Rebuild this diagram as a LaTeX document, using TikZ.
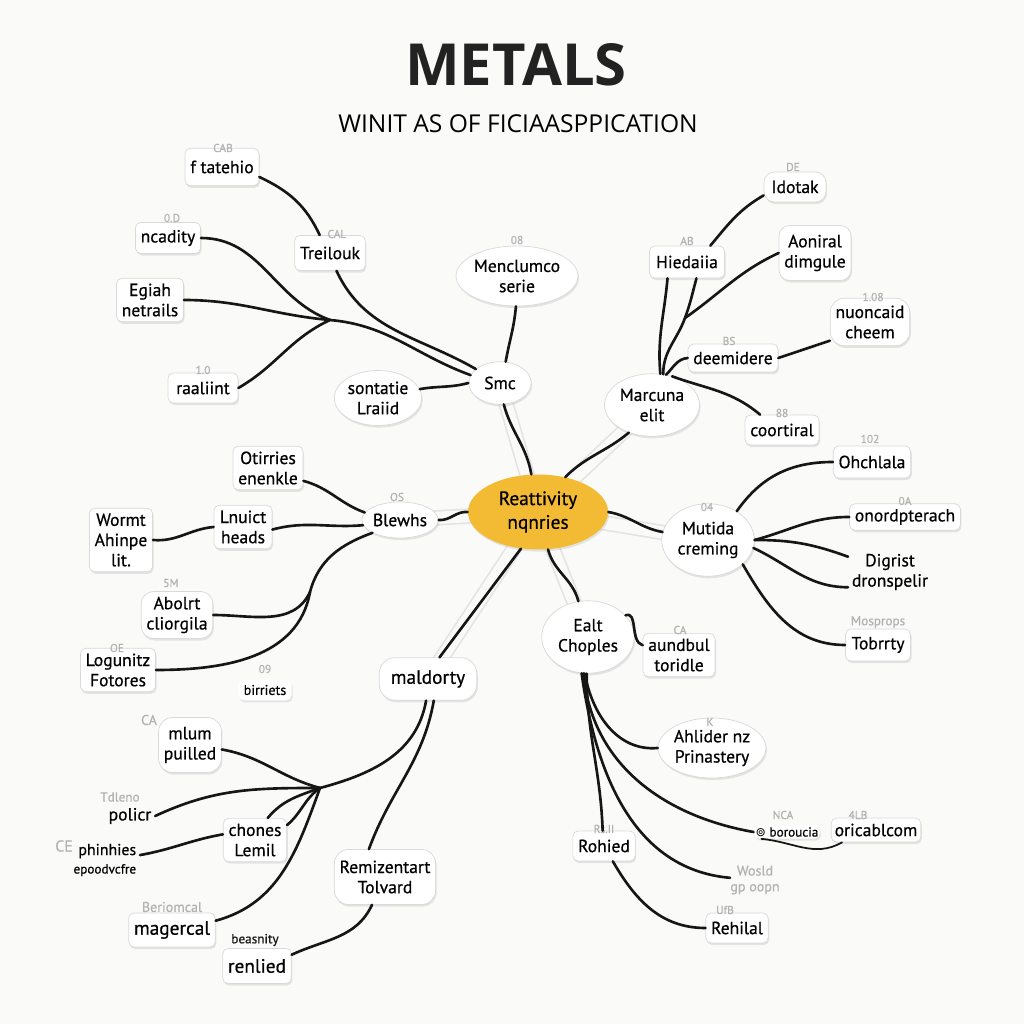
\documentclass[tikz,border=0pt]{standalone}
\usepackage{fontspec}
\setmainfont{PT Sans}[FakeBold=0.6]
\newfontfamily\headfont{Open Sans}
\newfontfamily\symfont{DejaVu Sans}
\usetikzlibrary{shapes.geometric, shadows, backgrounds}
\definecolor{paper}{RGB}{250, 250, 248}
\definecolor{hubgold}{RGB}{243, 186, 52}
\definecolor{inkblack}{RGB}{22, 22, 22}
\definecolor{taggray}{RGB}{178, 178, 178}
\newcommand{\mapfont}{\fontsize{10}{11.5}\selectfont}
\tikzset{
  link/.style={line width=1.5pt, line cap=round, inkblack},
  ghost/.style={draw=gray!22, line width=0.9pt, double=paper, double distance=7pt},
  softshadow/.style={drop shadow={opacity=0.18, shadow xshift=0.6pt, shadow yshift=-1.2pt}}
}

\begin{document}
\begin{tikzpicture}[
    hub/.style={ellipse, fill=hubgold, minimum width=2.8cm, minimum height=1.5cm, inner sep=0pt, font=\fontsize{11}{13.5}\selectfont, align=center, softshadow},
    topic/.style={ellipse, draw=gray!30, fill=white, inner sep=0pt, font=\mapfont, align=center, softshadow},
    leaf/.style={rectangle, draw=gray!30, fill=white, rounded corners=3pt, inner sep=3pt, font=\mapfont, align=center, softshadow},
    bare/.style={inner sep=2pt, font=\mapfont, align=center},
    tag/.style={inner sep=0pt, font=\fontsize{6.5}{7.5}\selectfont, text=taggray, align=center}
]
    \begin{scope}[on background layer]
        \fill[paper] (0, 0) rectangle (20.48, 20.48);
    \end{scope}
    \useasboundingbox (0, 0) rectangle (20.48, 20.48);

    % Header
    \node (title) at (10.32, 19.18) {\headfont\bfseries\color{inkblack!95}\fontsize{33}{36}\selectfont METALS};
    \node (subtitle) at (10.36, 18.00) {\headfont\fontsize{14}{16}\selectfont WINIT AS OF FICIAASPPICATION};

    % Centre and first ring
    \node[hub] (hub) at (10.76, 10.24) {Reattivity\\nqnries};
    \node[topic, minimum width=1.25cm, minimum height=0.85cm] (smc) at (10.00, 12.82) {Smc};
    \node[topic, minimum width=1.9cm, minimum height=1.25cm] (marcuna) at (13.04, 12.38) {Marcuna\\elit};
    \node[topic, minimum width=1.45cm, minimum height=0.72cm] (blewhs) at (8.00, 10.08) {Blewhs};
    \node[topic, minimum width=1.85cm, minimum height=1.45cm] (mutida) at (14.16, 9.68) {Mutida\\creming};
    \node[topic, minimum width=1.85cm, minimum height=1.45cm] (ealt) at (11.76, 7.74) {Ealt\\Choples};
    \node[leaf, rounded corners=9pt, minimum width=1.95cm, minimum height=0.85cm, font=\fontsize{11}{13}\selectfont] (maldorty) at (8.56, 6.90) {maldorty};

    % Smc branch
    \node[topic, minimum width=2.0cm, minimum height=1.2cm] (menclumco) at (10.34, 14.96) {Menclumco\\serie};
    \node[topic, minimum width=1.75cm, minimum height=1.1cm] (sontatie) at (7.56, 12.52) {sontatie\\Lraiid};
    \node[leaf, minimum width=1.4cm, minimum height=0.7cm] (treilouk) at (6.60, 15.42) {Treilouk};
    \node[leaf, minimum width=1.4cm, minimum height=0.75cm] (ftatehio) at (4.44, 17.14) {f tatehio};
    \node[leaf, minimum width=1.3cm, minimum height=0.62cm] (ncadity) at (3.36, 15.72) {ncadity};
    \node[leaf, minimum width=1.25cm] (egiah) at (3.00, 14.48) {Egiah\\netrails};
    \node[leaf, minimum width=1.4cm, minimum height=0.6cm] (raaliint) at (4.06, 12.72) {raaliint};
    \coordinate (jsw) at (6.60, 14.08);

    % Marcuna branch
    \node[leaf, minimum width=1.5cm, minimum height=0.64cm] (hiedaiia) at (13.74, 15.24) {Hiedaiia};
    \node[leaf, rounded corners=6pt, minimum width=1.24cm, minimum height=0.6cm] (idotak) at (15.90, 16.74) {Idotak};
    \node[leaf, rounded corners=6pt, minimum height=1.1cm] (aoniral) at (16.30, 15.42) {Aoniral\\dimgule};
    \node[leaf, rounded corners=8pt, minimum width=1.45cm, minimum height=0.95cm] (nuoncaid) at (17.40, 14.04) {nuoncaid\\cheem};
    \node[leaf, minimum width=1.64cm, minimum height=0.56cm] (deemidere) at (14.66, 13.32) {deemidere};
    \node[leaf, minimum width=1.4cm, minimum height=0.6cm] (coortiral) at (15.64, 11.88) {coortiral};
    \coordinate (jh) at (13.70, 14.12);

    % Blewhs branch
    \node[leaf, minimum width=1.2cm] (otirries) at (5.36, 11.12) {Otirries\\enenkle};
    \node[leaf, minimum width=1.16cm] (lnuict) at (4.86, 9.94) {Lnuict\\heads};
    \node[leaf, minimum width=1.2cm] (wormt) at (2.42, 9.68) {Wormt\\Ahinpe\\lit.};
    \node[leaf, rounded corners=7pt, minimum width=1.36cm] (abolrt) at (3.54, 8.18) {Abolrt\\cliorgila};
    \node[leaf, minimum width=1.24cm] (logunitz) at (2.36, 7.08) {Logunitz\\Fotores};
    \node[leaf, draw=none, font=\fontsize{8}{9}\selectfont] (birriets) at (5.30, 6.68) {birriets};
    \coordinate (jw) at (6.20, 8.64);

    % Mutida branch
    \node[leaf, minimum width=1.4cm, minimum height=0.64cm] (ohchlala) at (17.44, 11.24) {Ohchlala};
    \node[leaf, minimum width=1.8cm, minimum height=0.5cm] (onord) at (18.10, 10.14) {onordpterach};
    \node[bare] (digrist) at (17.80, 9.04) {Digrist\\dronspelir};
    \node[leaf, minimum width=1.3cm, minimum height=0.64cm] (tobrrty) at (17.56, 7.58) {Tobrrty};

    % Ealt branch
    \node[leaf, minimum width=1.3cm] (aundbul) at (13.58, 7.38) {aundbul\\toridle};
    \node[topic, minimum width=2.0cm, minimum height=1.2cm] (ahlider) at (14.24, 5.52) {Ahlider nz\\Prinastery};
    \node[leaf, draw=none, inner sep=1pt, font=\fontsize{7.5}{9}\selectfont] (boroucia) at (15.74, 3.84) {{\symfont\fontsize{7}{8}\selectfont ⊚} boroucia};
    \node[leaf, inner sep=2pt, minimum height=0.48cm] (oricablcom) at (17.52, 3.88) {oricablcom};
    \node[leaf, minimum width=1.2cm, minimum height=0.6cm] (rohied) at (12.08, 3.56) {Rohied};
    \node[leaf, minimum width=1.2cm, minimum height=0.6cm] (rehilal) at (14.74, 1.92) {Rehilal};
    \node[tag, font=\fontsize{8}{9}\selectfont] (wosld) at (15.10, 2.88) {Wosld\\gp oopn};

    % maldorty branch
    \node[leaf, rounded corners=8pt, minimum width=1.24cm, minimum height=1.1cm] (mlum) at (3.80, 5.58) {mlum\\puilled};
    \node[bare] (policr) at (2.60, 4.16) {policr};
    \node[leaf, minimum width=1.16cm] (chones) at (5.10, 3.68) {chones\\Lemil};
    \node[bare, anchor=east, align=right, font=\fontsize{9}{10.5}\selectfont] (phinhies) at (2.80, 3.28) {phinhies\\{\fontsize{7.5}{9}\selectfont epoodvcfre}};
    \node[leaf, minimum width=1.6cm, minimum height=0.68cm, font=\fontsize{11}{13}\selectfont] (magercal) at (3.44, 1.88) {magercal};
    \node[leaf, rounded corners=8pt, minimum width=2.0cm, minimum height=1.1cm] (remiz) at (7.70, 2.94) {Remizentart\\Tolvard};
    \node[leaf, minimum width=1.3cm, minimum height=0.7cm, font=\fontsize{11}{13}\selectfont] (renlied) at (5.14, 1.16) {renlied};
    \coordinate (jsw2) at (6.40, 4.72);

    % Small grey tags
    \node[tag] (tcab) at (4.46, 17.52) {CAB};
    \node[tag] (tod) at (3.44, 16.12) {0.D};
    \node[tag] (tone) at (4.06, 13.08) {1.0};
    \node[tag] (tcal) at (6.74, 15.80) {CAL};
    \node[tag] (tzero) at (10.34, 15.68) {08};
    \node[tag] (tab) at (13.74, 15.66) {AB};
    \node[tag] (tde) at (15.86, 17.14) {DE};
    \node[tag] (tonezero) at (17.46, 14.54) {1.08};
    \node[tag] (tbs) at (14.58, 13.66) {BS};
    \node[tag] (tee) at (15.64, 12.22) {88};
    \node[tag] (tonetwo) at (17.40, 11.70) {102};
    \node[tag] (tos) at (7.94, 10.54) {OS};
    \node[tag] (tfour) at (14.14, 10.34) {04};
    \node[tag] (toa) at (18.10, 10.46) {0A};
    \node[tag, font=\fontsize{7.5}{8.5}\selectfont] (tmos) at (17.56, 8.04) {Mosprops};
    \node[tag] (tfm) at (3.42, 8.82) {5M};
    \node[tag] (toe) at (2.34, 7.52) {OE};
    \node[tag] (tnine) at (5.30, 7.10) {09};
    \node[tag] (tca) at (13.60, 7.88) {CA};
    \node[tag] (tk) at (14.20, 6.04) {K};
    \node[tag] (tnca) at (15.66, 4.18) {NCA};
    \node[tag] (tflb) at (17.16, 4.18) {4LB};
    \node[tag] (trs) at (12.08, 3.90) {Rs.II};
    \node[tag] (tufb) at (14.50, 2.28) {UfB};
    \node[tag, font=\fontsize{8}{9}\selectfont] (tcatwo) at (2.98, 6.08) {CA};
    \node[tag, font=\fontsize{7.5}{8.5}\selectfont] (tdleno) at (2.40, 4.54) {Tdleno};
    \node[tag, font=\fontsize{9}{10}\selectfont] (tce) at (1.28, 3.56) {CE};
    \node[tag, font=\fontsize{8}{9}\selectfont] (tberi) at (3.44, 2.34) {Beriomcal};
    \node[tag, text=inkblack, font=\fontsize{7.5}{8.5}\selectfont] (tbeas) at (5.10, 1.68) {beasnity};

    % Faint guide lines round the centre
    \begin{scope}[on background layer]
        \draw[ghost] (hub.center) -- (smc.center);
        \draw[ghost] (hub.center) -- (marcuna.center);
        \draw[ghost] (hub.center) -- (blewhs.center);
        \draw[ghost] (hub.center) -- (mutida.center);
        \draw[ghost] (hub.center) -- (ealt.center);
        \draw[ghost] (hub.center) -- (maldorty.center);
    \end{scope}

    % Links from the centre
    \draw[link] (hub.100) to[out=100, in=-75] (smc.-80);
    \draw[link] (hub.52) to[out=45, in=-140] (marcuna.-130);
    \draw[link] (hub.west) to[out=175, in=-5] (blewhs.east);
    \draw[link] (hub.east) to[out=-10, in=170] (mutida.170);
    \draw[link] (hub.-75) to[out=-75, in=105] (ealt.105);
    \draw[link] (hub.-115) -- (maldorty.62);

    % Smc links
    \draw[link] (smc.75) to[out=80, in=-95] (menclumco.-92);
    \draw[link] (smc.west) to[out=195, in=10] (sontatie.12);
    \draw[link] (treilouk.-70) to[out=-65, in=150] (smc.150);
    \draw[link] (ftatehio.-15) to[out=-25, in=115] (treilouk.120);
    \draw[link] (ncadity.east) to[out=0, in=160] (jsw);
    \draw[link] (egiah.east) to[out=0, in=175] (jsw);
    \draw[link] (raaliint.east) to[out=30, in=205] (jsw);
    \draw[link] (jsw) to[out=-5, in=160] (smc.165);

    % Marcuna links
    \draw[link] (marcuna.75) to[out=95, in=-95] (hiedaiia.-140);
    \draw[link] (marcuna.70) to[out=90, in=-110] (jh);
    \draw[link] (jh) to[out=70, in=-105] (hiedaiia.-60);
    \draw[link] (jh) to[out=35, in=205] (aoniral.west);
    \draw[link] (marcuna.65) to[out=45, in=185] (deemidere.west);
    \draw[link] (deemidere.east) -- (nuoncaid.205);
    \draw[link] (marcuna.55) to[out=-20, in=140] (coortiral.145);
    \draw[link] (hiedaiia.35) to[out=50, in=-150] (idotak.195);

    % Blewhs links
    \draw[link] (otirries.-20) to[out=-15, in=160] (blewhs.168);
    \draw[link] (lnuict.-5) to[out=15, in=185] (blewhs.188);
    \draw[link] (wormt.east) to[out=-5, in=185] (lnuict.west);
    \draw[link] (blewhs.205) to[out=200, in=75] (jw);
    \draw[link] (abolrt.east) to[out=0, in=245] (jw);
    \draw[link] (logunitz.east) to[out=0, in=260] (jw);

    % Mutida links
    \draw[link] (mutida.45) to[out=55, in=180] (ohchlala.west);
    \draw[link] (mutida.east) to[out=15, in=180] (onord.west);
    \draw[link] (mutida.east) to[out=0, in=160] (digrist.160);
    \draw[link] (mutida.-10) to[out=-25, in=180] (digrist.200);
    \draw[link] (mutida.-35) to[out=-60, in=180] (tobrrty.west);

    % Ealt links
    \draw[link] (ealt.30) to[out=20, in=165] (aundbul.165);
    \draw[link] (ealt.-95) to[out=-80, in=185] (ahlider.west);
    \draw[link] (ealt.-97) to[out=-85, in=170] (boroucia.west);
    \draw[link] (ealt.-92) to[out=-90, in=92] (rohied.95);
    \draw[link] (ealt.-100) to[out=-82, in=175] (wosld.175);
    \draw[link] (rohied.-60) to[out=-60, in=180] (rehilal.west);
    \draw[link, line width=1pt] (boroucia.-165) to[out=-5, in=-150] (oricablcom.-160);

    % maldorty links
    \draw[link] (maldorty.-95) to[out=-100, in=15] (jsw2);
    \draw[link] (jsw2) to[out=165, in=-10] (mlum.-8);
    \draw[link] (jsw2) to[out=180, in=25] (policr.east);
    \draw[link] (jsw2) to[out=200, in=50] (chones.60);
    \draw[link] (jsw2) to[out=215, in=40] (chones.25);
    \draw[link] (chones.170) to[out=190, in=10] (phinhies.8);
    \draw[link] (jsw2) to[out=-110, in=15] (magercal.12);
    \draw[link] (maldorty.-75) to[out=-100, in=70] (remiz.120);
    \draw[link] (remiz.-115) to[out=-115, in=25] (renlied.18);
\end{tikzpicture}
\end{document}
